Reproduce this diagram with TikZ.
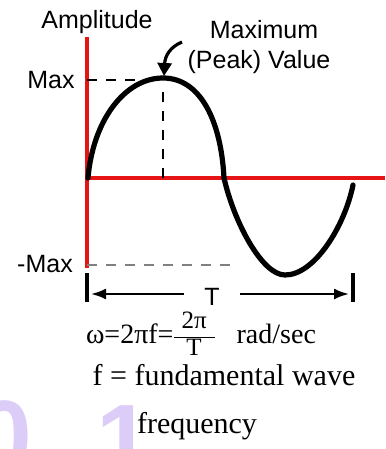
\documentclass[tikz,border=0pt]{standalone}
\usepackage{amsmath}
\usepackage{fontspec}
\setmainfont{Liberation Serif}
\setsansfont{Liberation Sans}
\usetikzlibrary{arrows.meta}
\definecolor{axisred}{RGB}{230,20,20}
\definecolor{marklav}{RGB}{220,204,248}
% stacked fraction set in the text font
\newcommand{\txtfrac}[2]{{\fontsize{12.5}{13}\selectfont
    \begin{tabular}[c]{@{\hspace{4pt}}c@{\hspace{4pt}}}#1\\\hline #2\end{tabular}}}

\begin{document}
\begin{tikzpicture}[x=0.5pt, y=-0.5pt,
    lbl/.style={font=\sffamily\fontsize{12.5}{15}\selectfont, inner sep=0pt},
    serif/.style={font=\fontsize{#1}{#1}\selectfont, inner sep=0pt, anchor=base},
    guide/.style={line width=0.9pt, dash pattern=on 5pt off 4.5pt},
    wmark/.style={text=marklav, font=\sffamily\bfseries\fontsize{50}{50}\selectfont}]
    \useasboundingbox (0,0) rectangle (385,449);

    % Watermark in the corner (cut off by the page edge)
    \begin{scope}
        \clip (0,0) rectangle (385,449);
        \node[wmark] (wmzero) at (4,436) {0};
        \node[wmark] (wmone) at (124,440) {1};
    \end{scope}

    % Axes
    \coordinate (O) at (87,178);
    \coordinate (ytop) at (87,37);
    \coordinate (ybot) at (87,268);
    \coordinate (xend) at (385,178);
    \draw[axisred, line width=2pt] (ytop) -- (ybot);
    \draw[axisred, line width=2pt] (O) -- (xend);

    % The wave
    \coordinate (pk) at (163,78);
    \coordinate (cross) at (224,178);
    \coordinate (tr0) at (285,275);
    \coordinate (wend) at (353,185);
    \draw[line width=2.6pt, line cap=round] (88,178) .. controls (93,120) and (125,78) .. (pk)
        .. controls (200,78) and (221,120) .. (cross)
        .. controls (234,222) and (262,275) .. (tr0)
        .. controls (315,275) and (345,225) .. (wend);

    % Levels of the peak and the trough
    \coordinate (maxy) at (87,80);
    \coordinate (maxend) at (145,80);
    \coordinate (miny) at (87,265);
    \coordinate (minend) at (233,265);
    \coordinate (pkfoot) at (163,178);
    \coordinate (pkdrop) at (163,92);
    \draw[guide] (maxy) -- (maxend);
    \draw[guide, gray] (miny) -- (minend);
    \draw[guide] (pkdrop) -- (pkfoot);

    \node[lbl] (amp) at (97,22) {Amplitude};
    \node[lbl] (maxv) at (51,80) {Max};
    \node[lbl] (minv) at (45,264) {-Max};
    \node[lbl] (maxtxt) at (264,30) {Maximum};
    \node[lbl] (peaktxt) at (259,62) {(Peak) Value};

    % Pointer to the peak
    \coordinate (tail) at (182,42);
    \coordinate (tip) at (164,76);
    \draw[line width=1.6pt, -{Triangle[length=6.5pt, width=7pt]}] (tail) .. controls (170,47) and (165,56) .. (tip);

    % One period T
    \coordinate (tl) at (87,294);
    \coordinate (tr) at (353,294);
    \draw[line width=1.6pt] (87,273) -- (87,302);
    \draw[line width=1.6pt] (353,273) -- (353,302);
    \node[lbl, inner xsep=10pt] (per) at (212,297) {T};
    \draw[line width=1.1pt, -{Latex[length=7.5pt, width=5.5pt]}, shorten >=2pt] (per.west |- tl) -- (tl);
    \draw[line width=1.1pt, -{Latex[length=7.5pt, width=5.5pt]}, shorten >=2pt] (per.east |- tr) -- (tr);

    % Formulas
    \node[serif=14] (omega) at (201,343) {ω=2πf=\txtfrac{2π}{T}\hspace{11pt}rad/sec};
    \node[serif=15] (fdef) at (224,385) {f = fundamental wave};
    \node[serif=15] (freq) at (197,433) {frequency};

\end{tikzpicture}
\end{document}
